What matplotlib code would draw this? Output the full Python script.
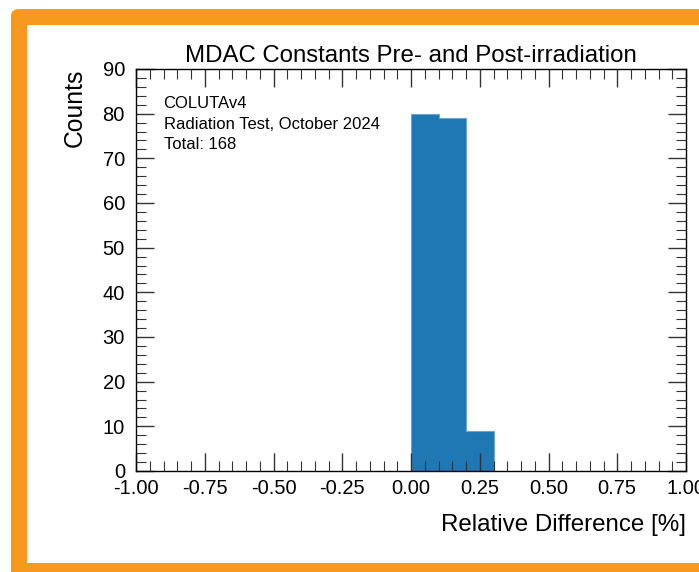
import numpy as np
import matplotlib
matplotlib.use("Agg")
from matplotlib import pyplot as plt
from matplotlib.patches import FancyBboxPatch
from matplotlib.ticker import MultipleLocator, FormatStrFormatter

# relative difference histogram (bin edges in %, counts per bin)
bin_edges = [0.0, 0.1, 0.2, 0.3]
bin_counts = [80, 79, 9]

info_lines = ["COLUTAv4", "Radiation Test, October 2024", "Total: 168"]

plt.rcParams['font.family'] = ['Liberation Sans', 'DejaVu Sans']

fig = plt.figure(figsize=(6.99, 5.72), dpi=100)
W, H = 699, 572

# orange slide frame, running off the right and bottom edges
frame = FancyBboxPatch((11 / W, -0.2), 1.2, (H - 9) / H + 0.2,
                       boxstyle="round,pad=0,rounding_size=0.012",
                       transform=fig.transFigure, facecolor='#f7991f',
                       edgecolor='none', zorder=0)
fig.patches.append(frame)
inner = plt.Rectangle((27 / W, (H - 563) / H), 1.0, (563 - 25) / H,
                      transform=fig.transFigure, facecolor='white',
                      edgecolor='none', zorder=0.5)
fig.patches.append(inner)

ax = fig.add_axes([136 / W, (H - 471) / H, 550 / W, 402 / H])
ax.set_zorder(2)

centers = np.array(bin_edges[:-1]) + 0.05
ax.hist(centers, bins=bin_edges, weights=bin_counts, color='#1f77b4',
        histtype='stepfilled', edgecolor='#6aa5d6', linewidth=0.8)

ax.set_xlim(-1, 1)
ax.set_ylim(0, 90)
ax.xaxis.set_major_locator(MultipleLocator(0.25))
ax.xaxis.set_minor_locator(MultipleLocator(0.05))
ax.yaxis.set_major_locator(MultipleLocator(10))
ax.yaxis.set_minor_locator(MultipleLocator(2))
ax.xaxis.set_major_formatter(FormatStrFormatter('%.2f'))
ax.tick_params(which='both', direction='in', top=True, right=True,
               labelsize=14.5, color='#333333')
ax.tick_params(which='major', length=13, width=1)
ax.tick_params(which='minor', length=7, width=0.8)
ax.tick_params(axis='x', which='major', pad=6)
ax.tick_params(axis='y', which='major', pad=8)
for s in ax.spines.values():
    s.set_linewidth(1.0)

ax.set_title('MDAC Constants Pre- and Post-irradiation', fontsize=17.3, pad=5)
ax.set_xlabel('Relative Difference [%]', loc='right', fontsize=17.4, labelpad=11)
ax.set_ylabel('Counts', loc='top', fontsize=17.8, labelpad=11)

for i, line in enumerate(info_lines):
    ax.text(0.05, 0.914 - i * 0.051, line, transform=ax.transAxes,
            fontsize=12, va='center', ha='left')

fig.savefig('out.png', dpi=100)
